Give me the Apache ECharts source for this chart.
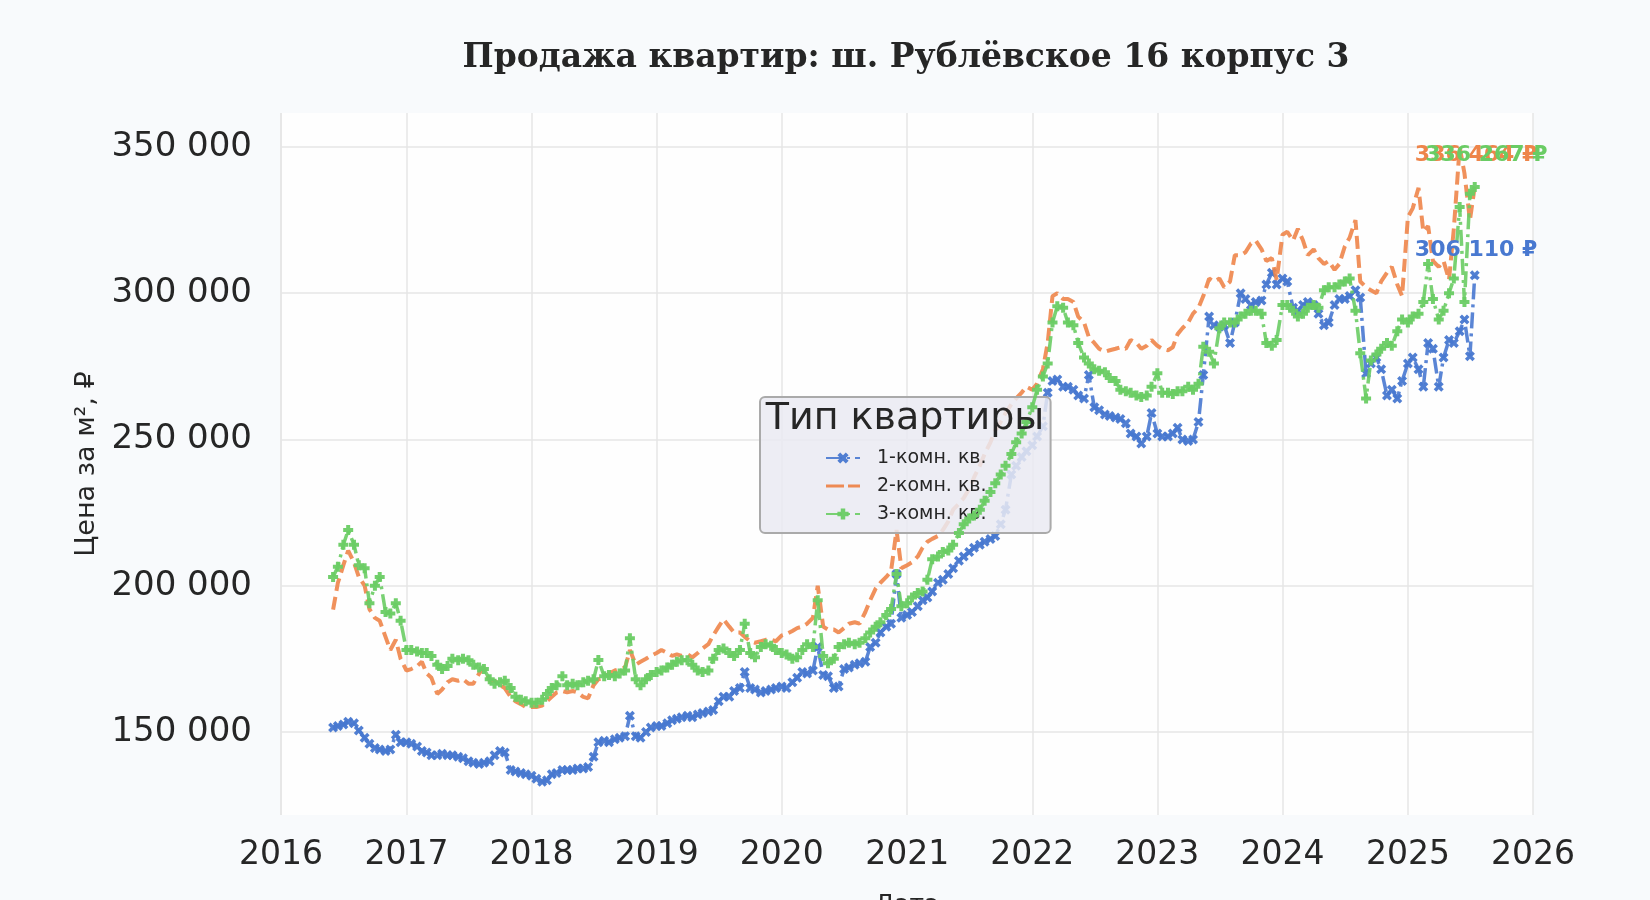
<!DOCTYPE html>
<html>
<head>
<meta charset="utf-8">
<title>Продажа квартир: ш. Рублёвское 16 корпус 3</title>
<script src="https://cdn.jsdelivr.net/npm/echarts@6.0.0/dist/echarts.min.js"></script>
<style>
  html, body { margin: 0; padding: 0; background: #f8fafc; }
  #chart { width: 1650px; height: 900px; }
</style>
</head>
<body>
<div id="chart"></div>
<script>
// даты: 1 и 15 число каждого месяца, июнь 2016 - июль 2025
const firstMonth = '2016-06'
const lastMonth = '2025-07'
const dates = []
for (let y = 2016; y <= 2025; y++) {
	for (let m = 1; m <= 12; m++) {
		const ym = y + '-' + String(m).padStart(2, '0')
		if (ym < firstMonth || ym > lastMonth) continue
		dates.push(ym + '-01', ym + '-15')
	}
}

const seriesNames = ['1-комн. кв.', '2-комн. кв.', '3-комн. кв.']

// цена за м², тыс. руб. (по два значения на месяц)
const oneRoomK = [
	151.5, 152, 152.5, 153.5, 153, 150.5, 148, 146, 144.5, 144, 143.5, 144, 149, 146.5,
	146.5, 146, 145, 143.5, 143, 142, 142, 142.5, 142, 142, 141.5, 141, 140, 139.5, 139, 139.5, 140, 142, 143.5, 143, 137, 136.5, 136, 135.5,
	135, 134, 133, 133.5, 135.5, 136, 137, 137, 137, 137.5, 137.5, 138, 141.5, 146.5, 147, 146.5, 147.5, 148, 148.5, 155.5, 148.5, 148, 150, 151.5,
	152, 152, 153, 154, 154.5, 155, 155.5, 155, 156, 156.5, 157, 157.5, 160.5, 162, 162, 164, 165, 170.5, 165, 164.5, 163.5, 164, 164.5, 165,
	165.5, 165, 167, 168.5, 170.5, 170, 171, 179, 169.5, 169, 165, 165.5, 171.5, 172, 173, 173.5, 174, 179, 180.5, 184, 186, 187, 204, 189,
	190, 191, 193, 195, 196, 198, 201, 202, 204, 206, 208.5, 210, 211.5, 213, 214, 215, 216, 217, 221, 226, 238, 241, 244, 246,
	248, 251, 254.5, 266, 270, 270.5, 268, 268, 267, 265, 264, 272, 261, 260, 258.5, 258, 257.5, 257, 255.5, 252, 251, 248.6, 251, 259,
	252, 251, 251, 252, 254, 250, 249.5, 250, 256, 272, 292, 289, 288.5, 289, 283, 290, 300, 298, 296, 297, 297.5, 303, 307, 303,
	305, 304, 295, 294, 296, 297, 296, 293, 289, 290, 296, 298, 298, 299, 301, 298.5, 272.5, 276, 278, 274, 265, 267, 264, 270,
	276, 278, 274, 268, 283, 281, 268, 278, 284, 283, 287, 291, 278.4, 306.11
]
const twoRoomK = [
	191.8, 201, 207, 212, 208, 203, 200, 192, 189, 188, 182.5, 178, 181.5, 175,
	171, 171.5, 172.5, 174, 170, 168.5, 163, 164.5, 167, 168, 167.5, 168, 166.5, 166.5, 170, 172, 167.5, 167.5, 166, 165, 162, 160.5, 159.5, 158.5,
	158.5, 158.5, 159, 160.5, 162, 163.5, 164, 163.5, 164, 163.5, 162, 161.5, 166, 168, 168.5, 170, 171, 171.5, 172, 178, 173, 174, 175, 176,
	177, 178, 177, 176, 176.5, 176, 176.5, 175.5, 177, 178.5, 180, 183, 186, 188.5, 186, 184, 184, 182.5, 181, 180.5, 181, 181.5, 181.5, 181,
	183, 183.5, 184.5, 185.5, 186, 187, 189, 200, 186, 185, 185, 184, 185.5, 187, 187.5, 187, 191, 195, 199, 201, 203, 205, 219, 206,
	207, 208, 210, 213, 215, 216, 217, 219, 222, 226, 228, 230, 233, 237, 241, 245, 249, 253, 256, 259, 262, 264, 266, 268,
	267, 269, 274, 283, 299, 300, 298, 298, 297, 292, 290, 285, 283, 281, 280, 280.5, 281, 281.5, 281, 284, 283, 281, 282, 284,
	282, 281, 280.5, 281.5, 286, 288, 290, 293, 295, 299, 305, 304, 305, 302, 304, 313, 313, 314, 317, 318, 315, 311, 312, 304.6,
	320, 321, 318, 322, 318, 313, 315, 312, 310, 311, 308, 310, 316, 319, 325, 304, 302, 301, 300, 304, 307, 309, 303, 299,
	326, 329, 336, 321, 323, 311, 309, 311, 304.6, 322, 350, 341, 325, 336.464
]
const threeRoomK = [
	203, 206.5, 214, 219, 214, 207, 206, 194, 200, 203, 191, 190.5, 194, 188,
	178, 178, 177.5, 177, 177, 176, 173, 171.5, 172.5, 175, 174.5, 175, 174.5, 173, 172, 171.5, 168, 166.5, 167, 167.5, 165, 162, 161, 160.5,
	160, 160, 161, 163, 165, 166, 169, 166, 166.5, 166, 167, 167.5, 168, 174.6, 169, 169.5, 169, 170, 171, 182, 168, 166, 168, 169.5,
	170.5, 171, 172, 173, 174, 174.5, 174.5, 173, 171, 170.5, 171, 175, 178, 178.5, 177, 176, 178, 187, 177, 175.5, 179, 180, 179.5, 178,
	177, 176.5, 175, 175.5, 178, 180, 179, 195, 176, 173.5, 175, 179, 180, 180.5, 180, 180.5, 182, 184, 186, 187.5, 190, 192, 204, 193,
	194, 196, 197.5, 198, 202, 209, 210, 211.5, 212, 214, 218, 221, 223, 224, 226, 229, 232, 235, 238, 241, 245, 249, 252, 256,
	261, 267, 271.5, 276, 290, 295.5, 295, 290, 289, 283, 278, 276, 274, 273.5, 273, 271, 270, 267, 266.5, 266, 265, 264.5, 265, 268,
	272.6, 266, 266, 265.5, 266.5, 266.5, 268, 267, 269, 281.7, 280, 276, 288, 290, 290, 290, 292, 293, 294, 294, 293, 283, 282, 284,
	296, 296, 294, 292, 293, 295, 296, 295, 301, 302, 302, 303, 304, 305, 294, 279.5, 264, 277, 279, 281, 283, 282, 287, 291,
	290, 292, 293, 297, 310, 298, 291, 294, 300, 305, 329.5, 297, 334, 336.267
]

// подписи последних значений
const labelDates = ['2025-07-19', '2025-07-19', '2025-08-18']
const labelValues = [314500, 347000, 347000]

const yTicks = [150000, 200000, 250000, 300000, 350000]
const xRange = ['2016-01-01', '2026-01-01']

const colors = ['#4878d0', '#ee854a', '#6acc64']
const FONT = 'DejaVu Sans'
const TEXT = '#262626'
const YEAR_MS = 365 * 24 * 3600 * 1000

function formatThousands(n) {
	return String(Math.round(n)).replace(/\B(?=(\d{3})+(?!\d))/g, ' ')
}

const symbolX = 'path://M2.5,0 L5,2.5 L7.5,0 L10,2.5 L7.5,5 L10,7.5 L7.5,10 L5,7.5 L2.5,10 L0,7.5 L2.5,5 L0,2.5 Z'
const symbolPlus = 'path://M3,0 H7 V3 H10 V7 H7 V10 H3 V7 H0 V3 H3 Z'
// значок штриховой линии для легенды (точки по углам задают рамку 34x14)
const dashedIcon = 'path://M0,0 L0.01,0 L0,0.01 Z M34,14 L33.99,14 L34,13.99 Z M0,5.5 H18 V8.5 H0 Z M22,5.5 H34 V8.5 H22 Z'

const allK = [oneRoomK, twoRoomK, threeRoomK]
const lineTypes = [[16, 5, 3, 5], [13, 6], [16, 5, 3, 5]]
const lineWidths = [3.5, 4, 3.5]
const symbols = [symbolX, 'none', symbolPlus]
const symbolSizes = [10, 0, 10]

const lineSeries = allK.map((arr, i) => ({
	name: seriesNames[i],
	type: 'line',
	data: dates.map((d, j) => [d, arr[j] * 1000]),
	symbol: symbols[i],
	symbolSize: symbolSizes[i],
	showSymbol: symbols[i] !== 'none',
	color: colors[i],
	lineStyle: { width: lineWidths[i], type: lineTypes[i], opacity: 0.9 },
	itemStyle: { color: colors[i], opacity: 0.95 },
	emphasis: { disabled: true },
	animation: false,
	z: 2 + i
}))

const labelSeries = {
	type: 'scatter',
	name: 'labels',
	symbolSize: 0,
	silent: true,
	animation: false,
	z: 10,
	itemStyle: { opacity: 1 },
	data: allK.map((arr, i) => ({
		name: formatThousands(arr[arr.length - 1] * 1000) + ' ₽',
		value: [labelDates[i], labelValues[i]],
		label: { color: colors[i] }
	})),
	label: {
		show: true,
		position: 'inside',
		formatter: p => p.name,
		fontFamily: FONT,
		fontWeight: 'bold',
		fontSize: 22,
		opacity: 1,
		textBorderWidth: 0
	}
}

const option = {
	backgroundColor: '#f8fafc',
	animation: false,
	title: {
		text: 'Продажа квартир: ш. Рублёвское 16 корпус 3',
		left: 901,
		top: 37,
		textAlign: 'center',
		textStyle: { fontFamily: 'DejaVu Serif', fontWeight: 'bold', fontSize: 33, color: TEXT }
	},
	grid: {
		left: 281, right: 117, top: 113, bottom: 85,
		outerBoundsMode: 'none',
		containLabel: false,
		show: true, backgroundColor: '#fefefe', borderWidth: 0
	},
	legend: {
		data: [
			{ name: seriesNames[0] },
			{ name: seriesNames[1], icon: dashedIcon },
			{ name: seriesNames[2] }
		],
		orient: 'vertical',
		left: 760,
		top: 397,
		padding: [51, 64, 9, 65],
		itemWidth: 34,
		itemHeight: 14,
		itemGap: 8,
		selectedMode: false,
		backgroundColor: 'rgba(234,234,242,0.85)',
		borderColor: '#aaaaaa',
		borderWidth: 2,
		borderRadius: 5,
		textStyle: { fontFamily: FONT, fontSize: 19, color: TEXT, lineHeight: 20, padding: [0, 0, 0, 12] }
	},
	graphic: [{
		type: 'text',
		x: 905,
		y: 419,
		z: 100,
		style: {
			text: 'Тип квартиры',
			font: '38px "DejaVu Sans"',
			fill: TEXT,
			align: 'center',
			verticalAlign: 'middle'
		}
	}],
	xAxis: {
		type: 'time',
		min: xRange[0],
		max: xRange[1],
		minInterval: YEAR_MS,
		maxInterval: YEAR_MS * 1.01,
		name: 'Дата',
		nameLocation: 'middle',
		nameGap: 78,
		nameTextStyle: { fontFamily: FONT, fontSize: 25, color: TEXT },
		axisLine: { show: false },
		axisTick: { show: false },
		axisLabel: {
			formatter: v => String(new Date(v).getFullYear()),
			fontFamily: FONT, fontSize: 33, color: TEXT, margin: 24,
			showMinLabel: true, showMaxLabel: true
		},
		splitLine: { show: true, lineStyle: { color: '#e6e6e6', width: 1.5 } }
	},
	yAxis: {
		type: 'value',
		min: 121600,
		max: 361600,
		name: 'Цена за м², ₽',
		nameLocation: 'middle',
		nameRotate: 90,
		nameGap: 181,
		nameTextStyle: { fontFamily: FONT, fontSize: 27, color: TEXT },
		axisLine: { show: false },
		axisTick: { show: false, customValues: yTicks },
		axisLabel: {
			customValues: yTicks,
			formatter: v => formatThousands(v),
			fontFamily: FONT, fontSize: 34, color: TEXT, margin: 29
		},
		splitLine: { show: true, lineStyle: { color: '#e6e6e6', width: 1.5 } }
	},
	series: [...lineSeries, labelSeries]
}

const chart = echarts.init(document.getElementById('chart'))
chart.setOption(option)
</script>
</body>
</html>
